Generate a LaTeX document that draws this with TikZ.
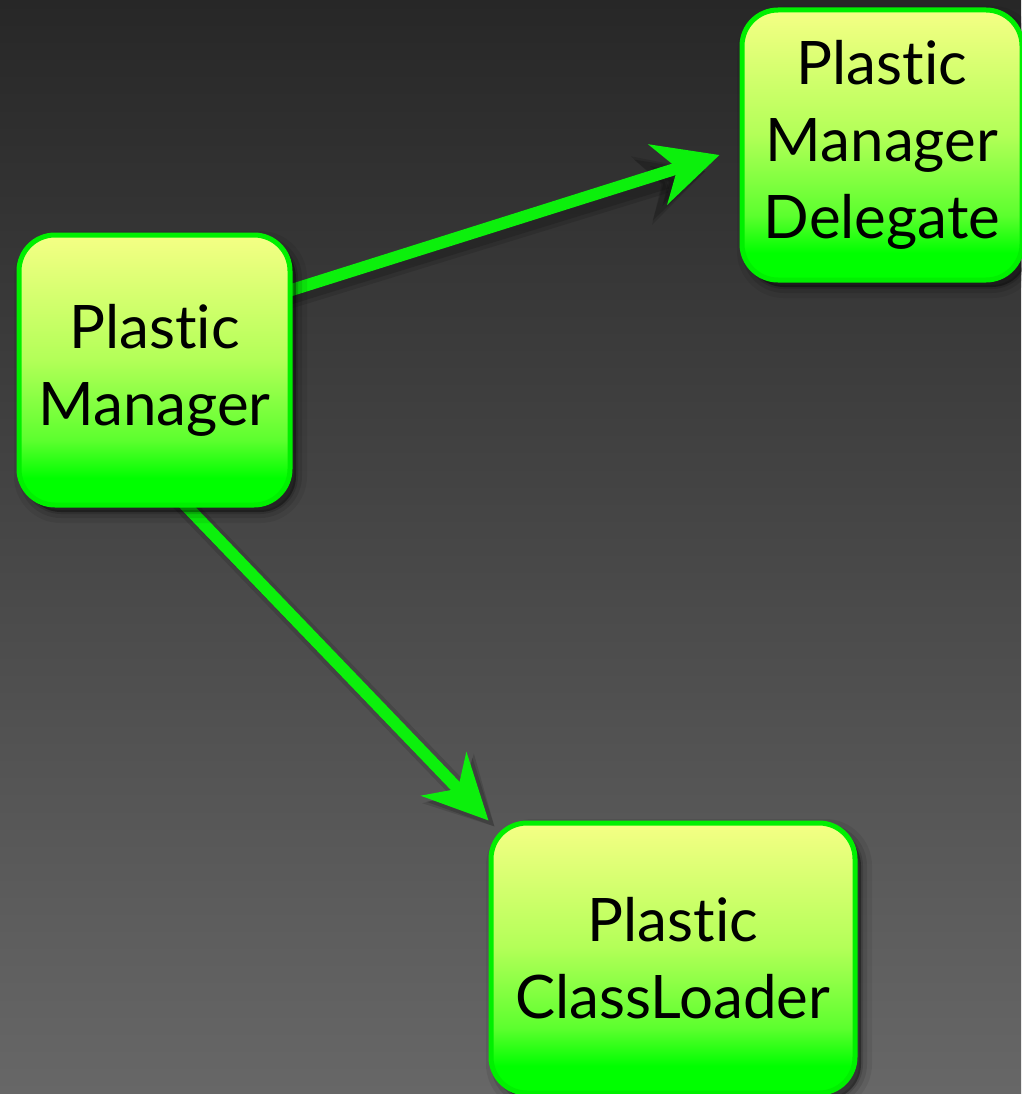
\documentclass[tikz,border=0pt]{standalone}
\usepackage{fontspec}
\setmainfont{Lato}[Ligatures={NoCommon,NoRare,NoContextual}]
\usetikzlibrary{arrows.meta,backgrounds}
\definecolor{bgtop}{HTML}{272727}
\definecolor{bgbot}{HTML}{676767}
\definecolor{bgreen}{HTML}{00F000}
\definecolor{bline}{HTML}{0CF00C}
\definecolor{gyel}{HTML}{F5FF85}
\definecolor{gmid}{HTML}{B3FF58}
\definecolor{glow}{HTML}{5CFF2E}
\definecolor{gbot}{HTML}{00FF00}
\pgfdeclareverticalshading{boxshade}{100bp}{color(0bp)=(gbot); color(25bp)=(gbot); color(30bp)=(gbot); color(37bp)=(glow); color(52bp)=(gmid); color(75bp)=(gyel); color(100bp)=(gyel)}
\pgfdeclarelayer{bg}
\pgfdeclarelayer{arrowlayer}
\pgfsetlayers{bg,arrowlayer,main}
\tikzset{
  softshadow/.style={
    preaction={draw=black, draw opacity=0.07, line width=22pt, transform canvas={shift={(6pt,-7pt)}}},
    preaction={draw=black, draw opacity=0.10, line width=12pt, transform canvas={shift={(6pt,-7pt)}}},
    preaction={draw=black, draw opacity=0.14, line width=4pt, fill=black, fill opacity=0.35, transform canvas={shift={(6pt,-7pt)}}}},
  box/.style={softshadow, draw=bgreen, line width=5pt, rounded corners=36pt, shading=boxshade,
    minimum height=270pt, align=center, inner sep=0pt, text=black,
    font=\fontsize{60}{77}\selectfont},
  conn/.style={draw=bline, line width=12pt,
    -{Stealth[length=64pt, width=62pt, inset=20pt, fill=bline]}},
  connshadow/.style={draw=black, opacity=0.12, line width=20pt,
    -{Stealth[length=66pt, width=70pt, inset=20pt]}},
  connshadowb/.style={draw=black, opacity=0.15, line width=12pt,
    -{Stealth[length=64pt, width=62pt, inset=20pt]}}
}
\begin{document}
\begin{tikzpicture}[x=1pt,y=-1pt]
\begin{pgfonlayer}{bg}
\fill[top color=bgtop, bottom color=bgbot] (0,0) rectangle (1021,1094);
\end{pgfonlayer}
\useasboundingbox (0,0) rectangle (1021,1094);

\node[box, minimum width=271pt] (pm) at (154.5,370) {Plastic\\Manager};
\node[box, minimum width=280pt] (pmd) at (882,145) {Plastic\\Manager\\Delegate};
\node[box, minimum width=364pt] (pcl) at (673,958) {Plastic\\ClassLoader};

\coordinate (tipA) at ([xshift=-20pt,yshift=-10pt]pmd.west);
\coordinate (tipB) at (pcl.north west);

\begin{pgfonlayer}{arrowlayer}
\draw[connshadow] ([xshift=-14pt,yshift=68pt]pm.east) -- ([xshift=-14pt,yshift=-16pt]tipA);
\draw[connshadowb] ([xshift=-14pt,yshift=68pt]pm.east) -- ([xshift=-14pt,yshift=-16pt]tipA);
\draw[connshadow] ([xshift=17pt,yshift=16pt]pm.south) -- ([xshift=6pt,yshift=-6pt]tipB);
\draw[connshadowb] ([xshift=17pt,yshift=16pt]pm.south) -- ([xshift=6pt,yshift=-6pt]tipB);
\draw[conn] ([xshift=-20pt,yshift=74pt]pm.east) -- (tipA);
\draw[conn] ([xshift=11.5pt,yshift=22.5pt]pm.south) -- (tipB);
\end{pgfonlayer}
\end{tikzpicture}
\end{document}
